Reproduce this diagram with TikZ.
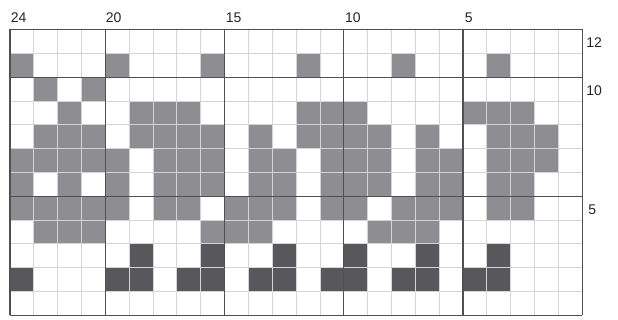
\documentclass[tikz,border=0pt]{standalone}
\usepackage{fontspec}
\setmainfont{Liberation Sans}
\definecolor{midg}{RGB}{142,142,146}
\definecolor{darkg}{RGB}{88,88,92}
\definecolor{thin}{RGB}{212,212,214}
\definecolor{thick}{RGB}{80,80,82}
\begin{document}
\begin{tikzpicture}[x=0.75pt,y=-0.75pt,
  lbl/.style={anchor=base west,inner sep=0pt,font=\fontsize{10.5}{12}\selectfont,text=black!85},
  thinline/.style={draw=thin,line width=0.6pt},
  thickline/.style={draw=thick,line width=0.9pt}]
\useasboundingbox (0,0) rectangle (618,320);
\fill[white] (0,0) rectangle (618,320);
\def\xo{10}\def\yo{29.5}\def\dx{23.84}\def\dy{23.82}
% mid-grey cells
\foreach \r/\cs in {1/{0,4,8,12,16,20},
  2/{1,3},
  3/{2,5,6,7,12,13,14,19,20,21},
  4/{1,2,3,5,6,7,8,10,12,13,14,15,17,20,21,22},
  5/{0,1,2,3,4,6,7,8,10,11,13,14,15,17,18,20,21,22},
  6/{0,2,4,6,7,8,10,11,13,14,15,17,18,20,21},
  7/{0,1,2,3,4,6,7,9,10,11,13,14,16,17,18,20,21},
  8/{1,2,3,8,9,10,15,16,17}}
  \foreach \c in \cs
    \fill[midg] ({\xo+\c*\dx},{\yo+\r*\dy}) rectangle ++(\dx,\dy);
% dark cells
\foreach \r/\cs in {9/{5,8,11,14,17,20},
  10/{0,4,5,7,8,10,11,13,14,16,17,19,20}}
  \foreach \c in \cs
    \fill[darkg] ({\xo+\c*\dx},{\yo+\r*\dy}) rectangle ++(\dx,\dy);
% thin grid
\foreach \c in {1,...,23}
  \draw[thinline] ({\xo+\c*\dx},\yo) -- ++(0,{12*\dy});
\foreach \r in {1,...,11}
  \draw[thinline] (\xo,{\yo+\r*\dy}) -- ++({24*\dx},0);
% thick grid
\foreach \c in {0,4,9,14,19,24}
  \draw[thickline] ({\xo+\c*\dx},\yo) -- ++(0,{12*\dy});
\foreach \r in {0,2,7,12}
  \draw[thickline] (\xo,{\yo+\r*\dy}) -- ++({24*\dx},0);
% labels
\node[lbl] (t24) at (10.5,22.7) {24};
\node[lbl] (t20) at (105.5,22.7) {20};
\node[lbl] (t15) at (225.5,22.7) {15};
\node[lbl] (t10) at (344.8,22.7) {10};
\node[lbl] (t5) at (464.5,22.7) {5};
\node[lbl] (r12) at (586,47.3) {12};
\node[lbl] (r10) at (586,96) {10};
\node[lbl] (r5) at (588,214.3) {5};
\end{tikzpicture}
\end{document}
